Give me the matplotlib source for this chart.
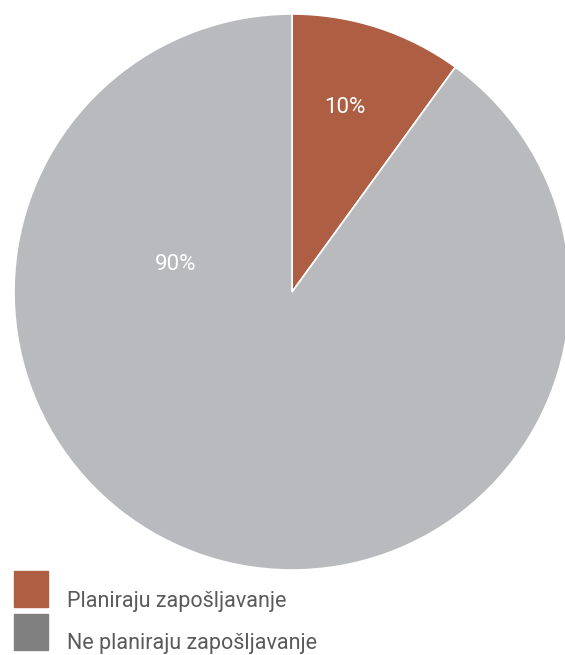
import matplotlib.pyplot as plt
from matplotlib.patches import Rectangle

labels = ['Planiraju zapošljavanje', 'Ne planiraju zapošljavanje']
values = [10, 90]
pct_text = ['10%', '90%']
slice_colors = ['#AE5E42', '#B9BABE']
legend_colors = ['#AE5E42', '#808080']

plt.rcParams['font.family'] = ['Roboto', 'DejaVu Sans']

W, H = 565, 655
fig = plt.figure(figsize=(W / 100, H / 100), dpi=100)

# pie axes: centre (292, 292) px, radius 278 px
ax = fig.add_axes([14 / W, (H - 570) / H, 556 / W, 556 / H])
ax.pie(values, colors=slice_colors, startangle=90, counterclock=False,
       radius=1.0, wedgeprops=dict(edgecolor='white', linewidth=1.2))
ax.set_xlim(-1, 1)
ax.set_ylim(-1, 1)
ax.set_aspect('equal')
ax.axis('off')

# percentage labels (placed as in the original)
label_pos = [(0.19, 0.665), (-0.417, 0.10)]
for (x, y), t in zip(label_pos, pct_text):
    ax.text(x, y, t, color='white', fontsize=16, ha='center', va='center')

# legend drawn by hand
for i, (lab, col) in enumerate(zip(labels, legend_colors)):
    top = 571 + i * 43
    fig.patches.append(Rectangle((14 / W, (H - top - 36) / H), 34 / W, 36 / H,
                                 transform=fig.transFigure, color=col))
    fig.text(67 / W, (H - top - 30) / H, lab, fontsize=15.5, color='#5a5a5a',
             ha='left', va='center')

fig.savefig('out.png', dpi=100)
